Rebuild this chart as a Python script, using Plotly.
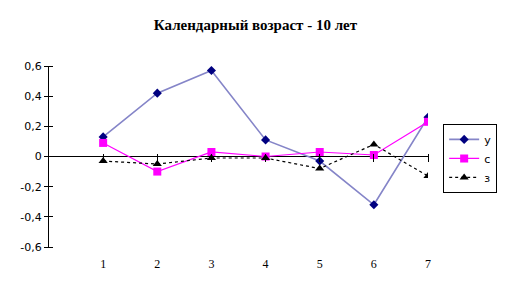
import plotly.graph_objects as go

categories = [1, 2, 3, 4, 5, 6, 7]
series_u = [0.13, 0.42, 0.57, 0.11, -0.03, -0.32, 0.26]
series_s = [0.09, -0.10, 0.03, 0.00, 0.03, 0.01, 0.23]
series_z = [-0.03, -0.05, -0.01, -0.01, -0.08, 0.08, -0.13]
names = ["у", "с", "з"]
title = "Календарный возраст - 10 лет"
yticks = [-0.6, -0.4, -0.2, 0, 0.2, 0.4, 0.6]
yticklabels = ["-0,6", "-0,4", "-0,2", "0", "0,2", "0,4", "0,6"]

fig = go.Figure()
fig.add_trace(go.Scatter(x=categories, y=series_u, name=names[0], mode="lines+markers",
                         line=dict(color="#8585C8", width=1.6),
                         marker=dict(symbol="diamond", size=7, color="#000080")))
fig.add_trace(go.Scatter(x=categories, y=series_s, name=names[1], mode="lines+markers",
                         line=dict(color="#FF00FF", width=1.2),
                         marker=dict(symbol="square", size=8, color="#FF00FF")))
fig.add_trace(go.Scatter(x=categories, y=series_z, name=names[2], mode="lines+markers",
                         line=dict(color="black", width=1.2, dash="dot"),
                         marker=dict(symbol="triangle-up", size=8, color="black")))
# helper overlay axes for crossing tick marks
fig.add_trace(go.Scatter(x=[categories[0]], y=[0], xaxis="x2", yaxis="y2", showlegend=False,
                         mode="markers", marker=dict(opacity=0), hoverinfo="skip"))

xr = [0, 7]
yr = [-0.6, 0.6]
plot_w = 511 - 49 - 83
plot_h = 293 - 66 - 46
fig.update_layout(
    width=511, height=293,
    margin=dict(l=49, r=83, t=66, b=46),
    paper_bgcolor="white", plot_bgcolor="white",
    title=dict(text="<b>" + title + "</b>", x=0.5, xanchor="center", y=0.915, yanchor="middle",
               font=dict(family="Liberation Serif", size=15, color="black")),
    xaxis=dict(range=xr, tickvals=categories, showgrid=False, zeroline=False, showline=False,
               ticks="", ticklabelstandoff=8,
               tickfont=dict(family="Liberation Serif", size=12, color="black")),
    yaxis=dict(range=yr, tickvals=yticks, ticktext=yticklabels, showgrid=False,
               zeroline=True, zerolinecolor="black", zerolinewidth=1,
               showline=True, linecolor="black", linewidth=1,
               ticks="outside", ticklen=4, tickcolor="black",
               tickfont=dict(family="DejaVu Sans", size=11, color="black")),
    xaxis2=dict(range=xr, tickvals=categories, overlaying="x", anchor="free",
                position=0.5 + 4 / plot_h,
                showgrid=False, zeroline=False, showline=False, ticks="outside", ticklen=8,
                tickcolor="black", showticklabels=False),
    yaxis2=dict(range=yr, tickvals=yticks, overlaying="y", anchor="free",
                position=4 / plot_w, showgrid=False,
                zeroline=False, showline=False, ticks="outside", ticklen=8, tickcolor="black",
                showticklabels=False),
    legend=dict(x=1.04, y=0.68, xanchor="left", yanchor="top",
                bordercolor="black", borderwidth=1, bgcolor="white",
                font=dict(family="DejaVu Sans", size=11, color="black"),
                tracegroupgap=0, itemwidth=30),
)
fig.write_html("out.html")
